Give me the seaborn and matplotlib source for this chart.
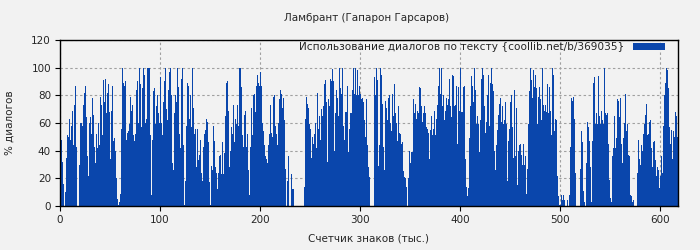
import numpy as np
import pandas as pd
import matplotlib
matplotlib.use("Agg")
import matplotlib.pyplot as plt
import seaborn as sns
from matplotlib.patches import Patch

# ---- data: % of dialogue per 1000-character chunk ----
pct_000 = [76,48,32,16,0,10,35,51,50,63, 48,58,69,44,73,87,43,0,0,30,
           60,60,58,73,82,87,64,36,22,60, 64,52,78,66,43,31,52,42,60,44,
           79,73,51,91,75,92,67,82,88,68, 34,69,87,47,49,40,20,5,1,3,
           9,56,100,89,87,90,48,53,54,59, 79,69,73,51,47,52,84,90,60,100,
           88,57,85,100,95,60,63,100,100,100, 51,8,48,83,85,59,72,80,67,60]
pct_100 = [93,60,51,75,90,100,70,62,84,97, 100,80,31,26,67,80,75,100,86,52,
           42,92,100,44,1,18,58,89,87,63, 80,57,100,71,52,56,28,56,33,37,
           48,24,18,43,52,55,63,61,46,17, 1,29,26,58,47,28,24,12,24,36,
           37,23,46,23,38,65,89,90,69,28, 40,57,52,73,46,63,59,73,58,100,
           100,86,51,43,66,69,43,52,26,8, 43,71,51,80,81,68,87,95,89,87]
pct_200 = [97,87,60,54,44,36,34,31,44,52, 73,53,50,79,80,58,52,44,60,77,
           84,81,71,78,62,27,0,18,36,0, 0,23,12,12,0,0,0,0,0,0,
           0,0,0,0,14,63,79,74,71,59, 56,35,50,45,52,60,42,82,56,65,
           48,70,65,72,88,91,75,32,77,72, 92,90,99,90,40,67,84,78,65,100,
           85,81,100,58,48,68,68,87,39,56, 67,67,84,100,81,100,80,98,80,87]
pct_300 = [81,77,78,75,62,50,77,44,28,21, 0,0,0,0,93,80,100,91,29,44,
           100,95,74,43,26,76,71,62,78,80, 60,54,81,65,88,67,60,47,72,53,
           52,45,46,25,21,20,14,0,20,40, 31,39,39,77,67,74,63,69,67,86,
           85,72,61,67,72,67,57,56,53,34, 55,65,51,56,69,51,63,73,87,100,
           81,100,72,80,62,69,78,73,77,92, 72,64,95,94,72,73,87,45,86,69]
pct_400 = [100,68,68,86,87,34,14,7,13,49, 72,94,87,75,100,84,59,65,59,39,
           62,92,100,95,72,53,61,80,95,58, 89,100,88,83,40,26,44,55,66,74,
           78,61,72,59,62,75,59,18,47,56, 75,80,57,35,84,36,71,15,40,44,
           45,37,30,45,30,36,9,27,59,83, 100,91,78,98,86,95,85,59,79,86,
           77,62,100,73,69,73,68,88,67,86, 69,51,100,95,54,63,62,22,7,1]
pct_500 = [1,8,4,8,4,0,0,4,0,8, 43,78,76,79,63,24,0,0,0,0,
           27,54,46,11,3,0,31,61,57,47, 28,3,47,89,93,59,67,59,94,65,
           59,69,62,59,100,67,66,67,45,19, 6,3,36,42,65,42,49,77,76,64,
           78,45,31,49,60,81,54,59,37,36, 8,7,3,4,0,0,0,24,48,34,
           30,44,40,52,59,66,74,51,52,61, 62,42,28,46,47,33,22,28,26,13,
           22,36,24,58,80,89,100,98,85,57, 45,55,34,54,50,68,65,50]

x_ticks = [0, 100, 200, 300, 400, 500, 600]
y_ticks = [0, 20, 40, 60, 80, 100, 120]
title = "Ламбрант (Гапарон Гарсаров)"
x_label = "Счетчик знаков (тыс.)"
y_label = "% диалогов"
legend_label = "Использование диалогов по тексту {coollib.net/b/369035}"

pct = pct_000 + pct_100 + pct_200 + pct_300 + pct_400 + pct_500
n = len(pct)
df = pd.DataFrame({"chunk": np.arange(n) + 0.5, "pct": pct})

BG = "#f2f2f2"
BLUE = "#0a46ac"

sns.set_theme(style="white")
plt.rcParams["font.family"] = ["DejaVu Sans"]
plt.rcParams["font.size"] = 7.5

fig = plt.figure(figsize=(7, 2.5), dpi=100, facecolor=BG)
ax = fig.add_axes([60/700, 44/250, 618/700, 166/250])
ax.set_facecolor(BG)

sns.histplot(data=df, x="chunk", weights="pct", binwidth=1, binrange=(0, n),
             color=BLUE, alpha=1, linewidth=0, ax=ax, zorder=2)

ax.set_xlim(0, n + 0.3)
ax.set_ylim(0, 120)
ax.set_xticks(x_ticks)
ax.set_yticks(y_ticks)
ax.grid(True, color="#a0a0a0", linestyle=(0, (2.2, 2.2)), linewidth=0.8, zorder=0)
ax.set_axisbelow(True)
for s in ax.spines.values():
    s.set_visible(True)
    s.set_color("black")
    s.set_linewidth(1.0)
ax.tick_params(axis="both", which="both", direction="out", length=3.5, width=0.8,
               color="black", labelsize=7.5, pad=3, bottom=True, left=True)

ax.set_xlabel(x_label, fontsize=7.5, labelpad=6)
ax.set_ylabel(y_label, fontsize=7.5, labelpad=12)
fig.text(367/700, 1 - 18/250, title, ha="center", va="center", fontsize=7.5)

handle = Patch(facecolor=BLUE, edgecolor="none")
ax.legend([handle], [legend_label], loc="upper right", frameon=False,
          markerfirst=False, fontsize=7.6, handlelength=3.0, handleheight=0.6,
          borderpad=0, borderaxespad=0, handletextpad=0.85,
          bbox_to_anchor=(0.979, 0.985))

fig.savefig("out.png", dpi=100, facecolor=BG)
